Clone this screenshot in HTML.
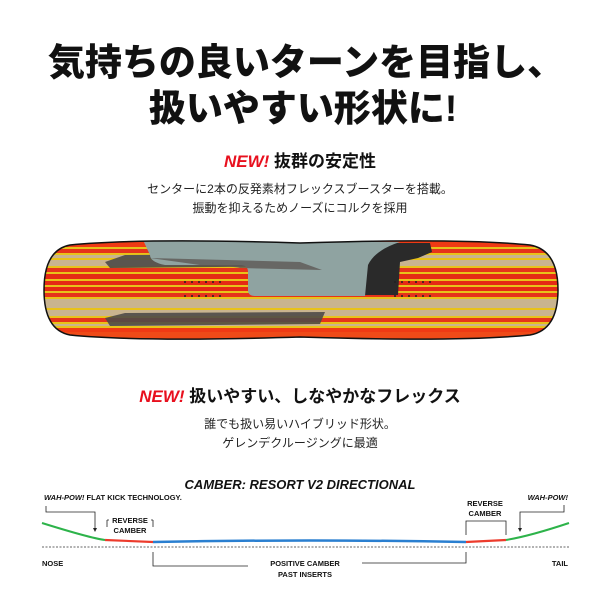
<!DOCTYPE html>
<html><head><meta charset="utf-8"><style>
html,body{margin:0;padding:0;background:#fff;width:600px;height:600px;overflow:hidden}
svg{display:block}
.jp{font-family:"Liberation Sans","Noto Sans CJK JP",sans-serif}
</style></head><body>
<svg width="600" height="600" viewBox="0 0 600 600" xmlns="http://www.w3.org/2000/svg">
<defs>
<pattern id="st" x="0" y="240" width="600" height="100" patternUnits="userSpaceOnUse">
<rect width="600" height="100" fill="#c9b48f"/>
<rect y="0" width="600" height="7" fill="#ef3a14"/>
<rect y="7" width="600" height="2" fill="#e8c21a"/>
<rect y="9" width="600" height="4" fill="#e6331a"/>
<rect y="13" width="600" height="2" fill="#e8c21a"/>
<rect y="18" width="600" height="2" fill="#e8c21a"/>
<rect y="26" width="600" height="2" fill="#e8c21a"/>
<rect y="28" width="600" height="4" fill="#e6331a"/>
<rect y="32" width="600" height="2" fill="#e8c21a"/>
<rect y="34" width="600" height="5" fill="#e52a14"/>
<rect y="39" width="600" height="2" fill="#e8c21a"/>
<rect y="41" width="600" height="4" fill="#e52a14"/>
<rect y="45" width="600" height="2" fill="#e8c21a"/>
<rect y="47" width="600" height="4" fill="#e52a14"/>
<rect y="51" width="600" height="2" fill="#e8c21a"/>
<rect y="53" width="600" height="4" fill="#e6331a"/>
<rect y="57" width="600" height="2" fill="#e8c21a"/>
<rect y="68" width="600" height="2" fill="#e8c21a"/>
<rect y="76" width="600" height="2" fill="#e8c21a"/>
<rect y="78" width="600" height="4" fill="#e6331a"/>
<rect y="82" width="600" height="2" fill="#e8c21a"/>
<rect y="86" width="600" height="2" fill="#e8c21a"/>
<rect y="88" width="600" height="4" fill="#ef3a14"/>
<rect y="92" width="600" height="8" fill="#ef4a18"/>
</pattern>
<clipPath id="bc"><path d="M70,245 Q140,238 300,243 Q460,238 530,245 Q558,250 558,290 Q558,330 530,335 Q460,342 300,337 Q140,342 70,335 Q44,330 44,290 Q44,250 70,245Z"/></clipPath>
</defs>

<text x="306" y="75" text-anchor="middle" class="jp" font-size="37" font-weight="900" fill="#111">気持ちの良いターンを目指し、</text>
<text x="303" y="121" text-anchor="middle" class="jp" font-size="37" font-weight="900" fill="#111">扱いやすい形状に!</text>

<text x="300" y="167" text-anchor="middle" class="jp" font-size="17" font-weight="bold" fill="#111"><tspan fill="#e8101e" font-style="italic">NEW!</tspan> 抜群の安定性</text>
<text x="300" y="193" text-anchor="middle" class="jp" font-size="12" fill="#222">センターに2本の反発素材フレックスブースターを搭載。</text>
<text x="300" y="212" text-anchor="middle" class="jp" font-size="12" fill="#222">振動を抑えるためノーズにコルクを採用</text>

<g clip-path="url(#bc)">
<rect x="40" y="236" width="525" height="110" fill="url(#st)"/>
<path d="M105,262 L125,255 L320,254 L330,266 L110,268Z" fill="#4e4a48" opacity="0.9"/>
<path d="M105,318 L125,313 L325,312 L320,324 L110,326Z" fill="#4e4a48" opacity="0.9"/>
<path d="M360,243 L430,243 L432,252 L418,258 L400,262 L398,295 L360,295Z" fill="#2a2a2a"/>
<path d="M143,240 L400,242 Q375,250 368,265 L365,296 L255,296 Q248,296 248,290 L248,272 Q248,265 240,265 L165,265 Q150,262 150,255 L143,240Z" fill="#8fa3a1"/>
<path d="M150,258 L300,262 L322,270 L240,268 Q232,266 200,265Z" fill="#5d5855" opacity="0.8"/>
</g>
<path d="M70,245 Q140,238 300,243 Q460,238 530,245 Q558,250 558,290 Q558,330 530,335 Q460,342 300,337 Q140,342 70,335 Q44,330 44,290 Q44,250 70,245Z" fill="none" stroke="#111" stroke-width="1.5"/>
<g fill="#222">
<circle cx="185" cy="282" r="1"/><circle cx="192" cy="282" r="1"/><circle cx="199" cy="282" r="1"/><circle cx="206" cy="282" r="1"/><circle cx="213" cy="282" r="1"/><circle cx="220" cy="282" r="1"/>
<circle cx="185" cy="296" r="1"/><circle cx="192" cy="296" r="1"/><circle cx="199" cy="296" r="1"/><circle cx="206" cy="296" r="1"/><circle cx="213" cy="296" r="1"/><circle cx="220" cy="296" r="1"/>
<circle cx="395" cy="282" r="1"/><circle cx="402" cy="282" r="1"/><circle cx="409" cy="282" r="1"/><circle cx="416" cy="282" r="1"/><circle cx="423" cy="282" r="1"/><circle cx="430" cy="282" r="1"/>
<circle cx="395" cy="296" r="1"/><circle cx="402" cy="296" r="1"/><circle cx="409" cy="296" r="1"/><circle cx="416" cy="296" r="1"/><circle cx="423" cy="296" r="1"/><circle cx="430" cy="296" r="1"/>
</g>

<text x="300" y="402" text-anchor="middle" class="jp" font-size="17" font-weight="bold" fill="#111"><tspan fill="#e8101e" font-style="italic">NEW!</tspan> 扱いやすい、しなやかなフレックス</text>
<text x="300" y="428" text-anchor="middle" class="jp" font-size="12" fill="#222">誰でも扱い易いハイブリッド形状。</text>
<text x="300" y="447" text-anchor="middle" class="jp" font-size="12" fill="#222">ゲレンデクルージングに最適</text>

<text x="300" y="489" text-anchor="middle" font-family="Liberation Sans,sans-serif" font-size="13" font-weight="bold" font-style="italic" fill="#111">CAMBER: RESORT V2 DIRECTIONAL</text>
<g font-family="Liberation Sans,sans-serif" font-size="7.5" font-weight="bold" fill="#111">
<text x="44" y="500"><tspan font-style="italic">WAH-POW!</tspan> FLAT KICK TECHNOLOGY.</text>
<text x="130" y="523" text-anchor="middle">REVERSE</text>
<text x="130" y="533" text-anchor="middle">CAMBER</text>
<text x="485" y="506" text-anchor="middle">REVERSE</text>
<text x="485" y="516" text-anchor="middle">CAMBER</text>
<text x="568" y="500" text-anchor="end" font-style="italic">WAH-POW!</text>
<text x="42" y="566">NOSE</text>
<text x="568" y="566" text-anchor="end">TAIL</text>
<text x="305" y="566" text-anchor="middle">POSITIVE CAMBER</text>
<text x="305" y="577" text-anchor="middle">PAST INSERTS</text>
</g>
<g stroke="#222" stroke-width="0.8" fill="none">
<path d="M46,506 V512 H95 V530"/>
<path d="M107,527 V520 M107,520 H109 M153,527 V520 M153,520 H151"/>
<path d="M466,535 V521 H506 V535"/>
<path d="M564,505 V512 H520 V530"/>
<path d="M153,552 V566 H248 M362,563 H466 V552"/>
</g>
<g fill="#222"><path d="M93,528 L97,528 L95,532Z"/><path d="M518,528 L522,528 L520,532Z"/></g>
<line x1="42" y1="547" x2="569" y2="547" stroke="#333" stroke-width="0.8" stroke-dasharray="2,1.5"/>
<path d="M42,523 Q90,538 105,540" stroke="#2db34a" stroke-width="2" fill="none"/>
<path d="M105,540 L153,542" stroke="#ec3b2c" stroke-width="2.2" fill="none"/>
<path d="M153,542 Q310,539 466,542" stroke="#2a7fd0" stroke-width="2.5" fill="none"/>
<path d="M466,542 L506,540" stroke="#ec3b2c" stroke-width="2.2" fill="none"/>
<path d="M506,540 Q530,536 569,523" stroke="#2db34a" stroke-width="2" fill="none"/>
</svg>
</body></html>
